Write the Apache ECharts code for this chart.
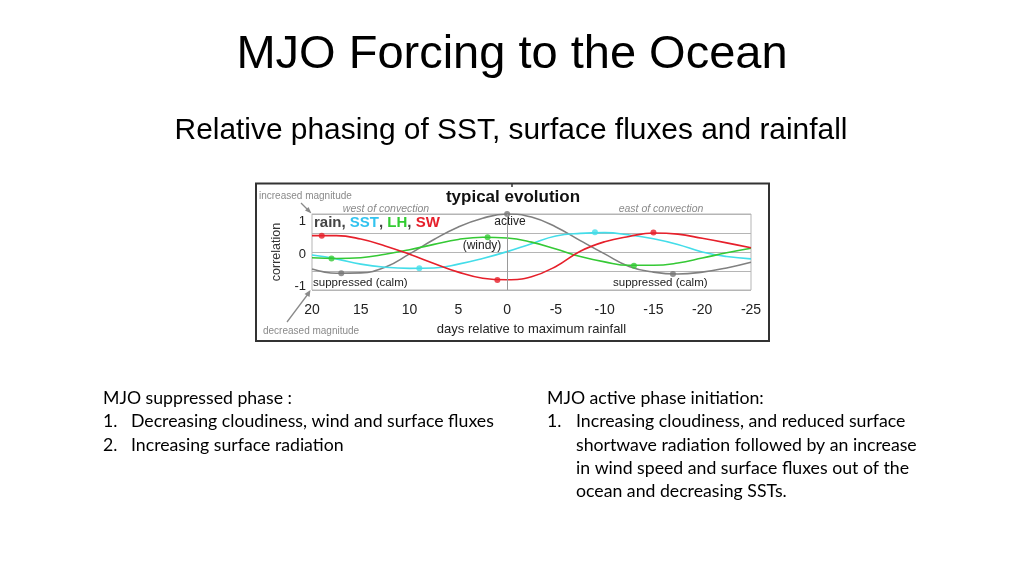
<!DOCTYPE html>
<html>
<head>
<meta charset="utf-8">
<script src="https://cdn.jsdelivr.net/npm/echarts@6/dist/echarts.min.js"></script>
<style>
  html, body { margin: 0; padding: 0; background: #ffffff; }
  #chart { width: 1024px; height: 576px; }
</style>
</head>
<body>
<div id="chart"></div>
<script>
// ---- data ----
var days = [20, 17.5, 15, 12.5, 10, 7.5, 5, 2.5, 0, -2.5, -5, -7.5, -10, -12.5, -15, -17.5, -20, -22.5, -25];
var rain = [-0.45, -0.56, -0.55, -0.40, -0.05, 0.33, 0.66, 0.89, 1.00, 0.92, 0.66, 0.30, -0.05, -0.38, -0.53, -0.58, -0.53, -0.42, -0.27];
var sst  = [-0.08, -0.18, -0.32, -0.40, -0.43, -0.42, -0.32, -0.17, 0.01, 0.22, 0.42, 0.49, 0.51, 0.45, 0.35, 0.20, 0.00, -0.12, -0.18];
var lh   = [-0.15, -0.17, -0.15, -0.06, 0.06, 0.20, 0.33, 0.39, 0.37, 0.26, 0.08, -0.12, -0.26, -0.35, -0.35, -0.29, -0.16, -0.02, 0.10];
var sw   = [0.43, 0.43, 0.34, 0.16, -0.06, -0.30, -0.53, -0.69, -0.73, -0.65, -0.38, 0.02, 0.27, 0.41, 0.50, 0.47, 0.36, 0.24, 0.11];
// extremum dots [day, value]
var rainDots = [[17, -0.56], [0, 1.0], [-17, -0.58]];
var sstDots  = [[9, -0.43], [-9, 0.52]];
var lhDots   = [[18, -0.17], [2, 0.39], [-13, -0.36]];
var swDots   = [[19, 0.43], [1, -0.74], [-15, 0.51]];
var xTicks = [20, 15, 10, 5, 0, -5, -10, -15, -20, -25];
var yTicks = [-1, 0, 1];

var colors = { rain: '#808080', sst: '#44dde9', lh: '#35c935', sw: '#e6202b' };

function pairs(xs, ys) { return xs.map(function (x, i) { return [x, ys[i]]; }); }

var chart = echarts.init(document.getElementById('chart'), null, { renderer: 'canvas' });

function lineSeries(name, vals, color, extra) {
  var s = {
    name: name, type: 'line', data: pairs(days, vals), smooth: 0.45,
    showSymbol: false, silent: true,
    lineStyle: { color: color, width: 1.6 }, z: 3
  };
  if (extra) for (var k in extra) s[k] = extra[k];
  return s;
}
function dotSeries(name, pts, color) {
  return { name: name + ' peaks', type: 'scatter', data: pts, symbol: 'circle', symbolSize: 6,
    itemStyle: { color: color }, silent: true, z: 4 };
}

var SANS = '"Liberation Sans", Arial, sans-serif';
var BODY = 'Lato, "Open Sans", sans-serif';
var bodySize = 17.7;
var lh1 = 23.4;

var option = {
  backgroundColor: '#ffffff',
  animation: false,
  grid: { left: 312, right: 273, top: 214, bottom: 286, show: true, borderColor: '#b5b5b5', borderWidth: 1, backgroundColor: 'transparent' },
  xAxis: {
    type: 'value', inverse: true, min: -25, max: 20, interval: 5,
    axisLine: { show: false }, axisTick: { show: false }, splitLine: { show: false },
    axisLabel: { color: '#222', fontSize: 14, fontFamily: SANS, margin: 13,
      formatter: function (v) { return xTicks.indexOf(v) >= 0 ? String(v) : ''; } },
    name: 'days relative to maximum rainfall', nameLocation: 'middle', nameGap: 33,
    nameTextStyle: { color: '#222', fontSize: 13, fontFamily: SANS }
  },
  yAxis: {
    type: 'value', min: -1, max: 1, interval: 0.5,
    axisLine: { show: false }, axisTick: { show: false },
    splitLine: { show: true, lineStyle: { color: '#b5b5b5', width: 1 } },
    axisLabel: { color: '#222', fontSize: 13, fontFamily: SANS, margin: 6,
      formatter: function (v) {
        if (yTicks.indexOf(v) < 0) return '';
        if (v === 1) return '{a|1}';
        if (v === -1) return '{c|-1}';
        return '{b|0}';
      },
      rich: {
        a: { fontSize: 13, fontFamily: SANS, color: '#222', padding: [14, 0, 0, 0] },
        b: { fontSize: 13, fontFamily: SANS, color: '#222', padding: [4, 0, 0, 0] },
        c: { fontSize: 13, fontFamily: SANS, color: '#222', padding: [0, 0, 8, 0] }
      }
    },
    name: 'correlation', nameLocation: 'middle', nameGap: 29, nameRotate: 90,
    nameTextStyle: { color: '#333', fontSize: 12.5, fontFamily: SANS }
  },
  series: [
    lineSeries('rain', rain, colors.rain, {
      markLine: { silent: true, symbol: ['none', 'none'], label: { show: false },
        lineStyle: { color: '#9a9a9a', width: 1, type: 'solid' }, data: [{ xAxis: 0 }] }
    }),
    lineSeries('SST', sst, colors.sst),
    lineSeries('LH', lh, colors.lh),
    lineSeries('SW', sw, colors.sw),
    dotSeries('rain', rainDots, '#777777'),
    dotSeries('SST', sstDots, colors.sst),
    dotSeries('LH', lhDots, colors.lh),
    dotSeries('SW', swDots, colors.sw)
  ],
  graphic: [
    // slide title + subtitle
    { type: 'text', x: 512, y: 55, style: { text: 'MJO Forcing to the Ocean', font: '47px ' + SANS, fill: '#000', align: 'center', verticalAlign: 'middle' } },
    { type: 'text', x: 511, y: 131, style: { text: 'Relative phasing of SST, surface fluxes and rainfall', font: '29.9px ' + SANS, fill: '#000', align: 'center', verticalAlign: 'middle' } },
    // inset frame
    { type: 'rect', shape: { x: 256, y: 183.5, width: 513, height: 157.5 }, style: { fill: 'none', stroke: '#333', lineWidth: 2 }, z: 10 },
    { type: 'line', shape: { x1: 512, y1: 183, x2: 512, y2: 187 }, style: { stroke: '#333', lineWidth: 1.5 }, z: 10 },
    { type: 'text', x: 513, y: 197, style: { text: 'typical evolution', font: 'bold 17px ' + SANS, fill: '#111', align: 'center', verticalAlign: 'middle' } },
    { type: 'text', x: 259, y: 196, style: { text: 'increased magnitude', font: '10px ' + SANS, fill: '#8a8a8a', align: 'left', verticalAlign: 'middle' } },
    { type: 'text', x: 263, y: 331, style: { text: 'decreased magnitude', font: '10px ' + SANS, fill: '#8a8a8a', align: 'left', verticalAlign: 'middle' } },
    { type: 'line', shape: { x1: 301, y1: 203, x2: 309, y2: 211 }, style: { stroke: '#8a8a8a', lineWidth: 1.3 } },
    { type: 'polygon', shape: { points: [[311.5, 213.5], [305, 210.5], [308.5, 207]] }, style: { fill: '#8a8a8a' } },
    { type: 'line', shape: { x1: 287, y1: 322, x2: 308, y2: 294 }, style: { stroke: '#8a8a8a', lineWidth: 1.3 } },
    { type: 'polygon', shape: { points: [[310.5, 290], [304.5, 294], [309.5, 297]] }, style: { fill: '#8a8a8a' } },
    { type: 'text', x: 386, y: 209, style: { text: 'west of convection', font: 'italic 10.5px ' + SANS, fill: '#8a8a8a', align: 'center', verticalAlign: 'middle' } },
    { type: 'text', x: 661, y: 209, style: { text: 'east of convection', font: 'italic 10.5px ' + SANS, fill: '#8a8a8a', align: 'center', verticalAlign: 'middle' } },
    // legend
    { type: 'text', x: 314, y: 223, z: 5, style: {
        text: '{r|rain, }{s|SST}{r|, }{l|LH}{r|, }{w|SW}', align: 'left', verticalAlign: 'middle',
        rich: {
          r: { font: 'bold 15px ' + SANS, fill: '#444' },
          s: { font: 'bold 15px ' + SANS, fill: '#33c3ef' },
          l: { font: 'bold 15px ' + SANS, fill: '#33cc33' },
          w: { font: 'bold 15px ' + SANS, fill: '#e6202b' }
        } } },
    // in-plot annotations
    { type: 'text', x: 510, y: 222, z: 5, style: { text: 'active', font: '12px ' + SANS, fill: '#222', align: 'center', verticalAlign: 'middle' } },
    { type: 'text', x: 482, y: 246, z: 5, style: { text: '(windy)', font: '12px ' + SANS, fill: '#222', align: 'center', verticalAlign: 'middle' } },
    { type: 'text', x: 313, y: 283, z: 5, style: { text: 'suppressed (calm)', font: '11.5px ' + SANS, fill: '#222', align: 'left', verticalAlign: 'middle' } },
    { type: 'text', x: 613, y: 283, z: 5, style: { text: 'suppressed (calm)', font: '11.5px ' + SANS, fill: '#222', align: 'left', verticalAlign: 'middle' } },
    // bottom-left text
    { type: 'text', x: 103, y: 398, style: { text: 'MJO suppressed phase :', font: bodySize + 'px ' + BODY, fill: '#000', align: 'left', verticalAlign: 'middle' } },
    { type: 'text', x: 103, y: 398 + lh1, style: { text: '1.', font: bodySize + 'px ' + BODY, fill: '#000', align: 'left', verticalAlign: 'middle' } },
    { type: 'text', x: 131, y: 398 + lh1, style: { text: 'Decreasing cloudiness, wind and surface fluxes', font: bodySize + 'px ' + BODY, fill: '#000', align: 'left', verticalAlign: 'middle' } },
    { type: 'text', x: 103, y: 398 + 2 * lh1, style: { text: '2.', font: bodySize + 'px ' + BODY, fill: '#000', align: 'left', verticalAlign: 'middle' } },
    { type: 'text', x: 131, y: 398 + 2 * lh1, style: { text: 'Increasing surface radiation', font: bodySize + 'px ' + BODY, fill: '#000', align: 'left', verticalAlign: 'middle' } },
    // bottom-right text
    { type: 'text', x: 547, y: 398, style: { text: 'MJO active phase initiation:', font: bodySize + 'px ' + BODY, fill: '#000', align: 'left', verticalAlign: 'middle' } },
    { type: 'text', x: 547, y: 398 + lh1, style: { text: '1.', font: bodySize + 'px ' + BODY, fill: '#000', align: 'left', verticalAlign: 'middle' } },
    { type: 'text', x: 576, y: 398 + lh1, style: { text: 'Increasing cloudiness, and reduced surface', font: bodySize + 'px ' + BODY, fill: '#000', align: 'left', verticalAlign: 'middle' } },
    { type: 'text', x: 576, y: 398 + 2 * lh1, style: { text: 'shortwave radiation followed by an increase', font: bodySize + 'px ' + BODY, fill: '#000', align: 'left', verticalAlign: 'middle' } },
    { type: 'text', x: 576, y: 398 + 3 * lh1, style: { text: 'in wind speed and surface fluxes out of the', font: bodySize + 'px ' + BODY, fill: '#000', align: 'left', verticalAlign: 'middle' } },
    { type: 'text', x: 576, y: 398 + 4 * lh1, style: { text: 'ocean and decreasing SSTs.', font: bodySize + 'px ' + BODY, fill: '#000', align: 'left', verticalAlign: 'middle' } }
  ]
};
chart.setOption(option);
</script>
</body>
</html>
